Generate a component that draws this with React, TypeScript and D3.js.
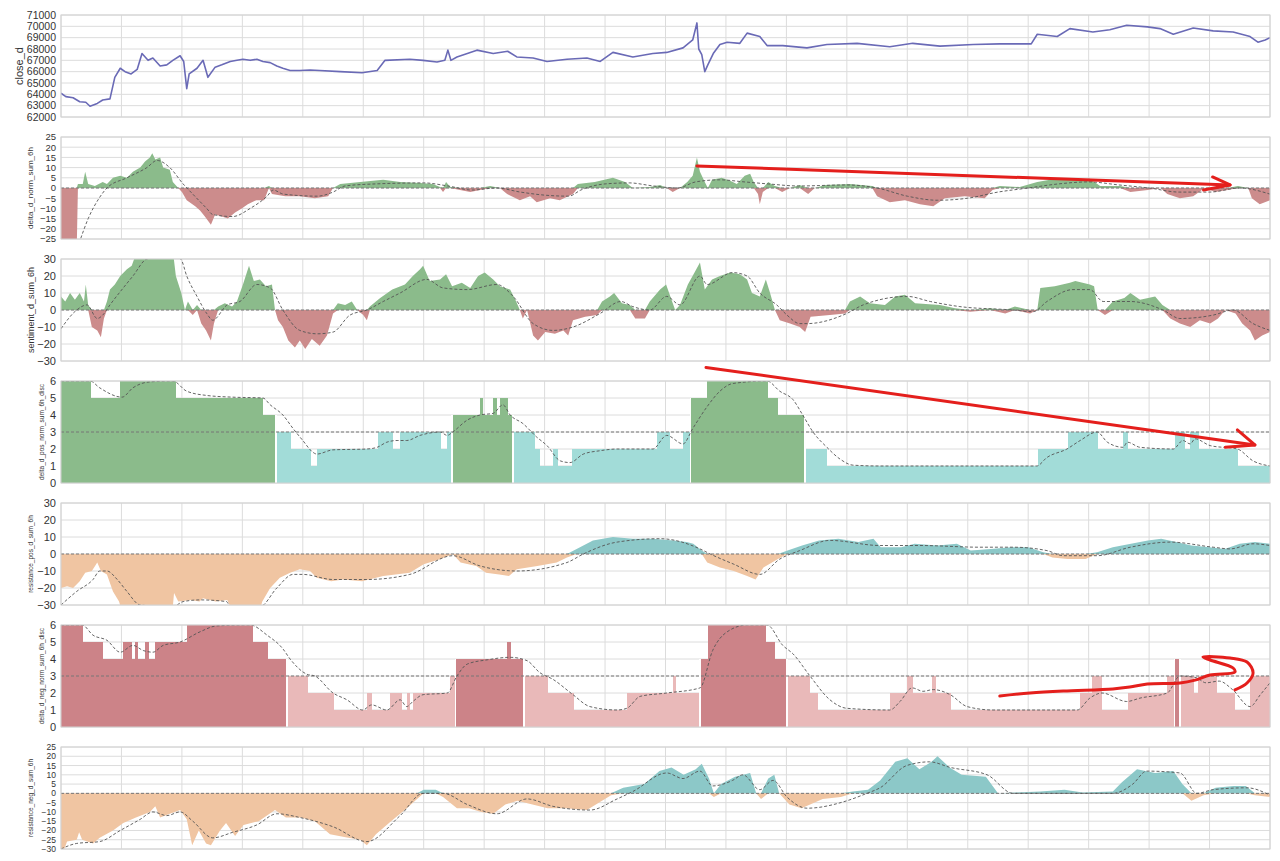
import React from 'react';
import * as d3 from 'd3';

type Pt = [number, number];

// x is time in grid units: 0..20, one unit per vertical gridline

const closeD: Pt[] = [
  [0, 64100], [0.08, 63800], [0.2, 63700], [0.31, 63350], [0.41, 63300], [0.48, 62950], [0.6, 63200],
  [0.69, 63500], [0.81, 63600], [0.89, 65500], [0.98, 66300], [1.06, 66000], [1.16, 65800], [1.26, 66200],
  [1.34, 67600], [1.44, 67000], [1.52, 67200], [1.64, 66500], [1.75, 66600], [1.85, 67000], [1.97, 67400],
  [2.03, 66900], [2.08, 64500], [2.12, 65800], [2.25, 66300], [2.35, 67000], [2.43, 65500], [2.55, 66400],
  [2.66, 66600], [2.8, 66900], [2.91, 67000], [3.01, 67100], [3.13, 67000], [3.24, 67100], [3.34, 66900],
  [3.46, 66800], [3.57, 66500], [3.67, 66300], [3.79, 66100], [3.95, 66100], [4.12, 66150], [4.28, 66100],
  [4.62, 66000], [4.98, 65900], [5.23, 66100], [5.36, 67000], [5.77, 67100], [5.99, 67000], [6.22, 66850],
  [6.35, 67000], [6.4, 67900], [6.45, 67000], [6.55, 67300], [6.88, 67900], [7.15, 67600], [7.39, 67800],
  [7.54, 67300], [7.81, 67200], [8.04, 66900], [8.37, 67100], [8.7, 67200], [8.92, 66900], [9.13, 67700],
  [9.46, 67300], [9.79, 67600], [10.02, 67700], [10.29, 68100], [10.45, 68800], [10.52, 70300], [10.55, 68000],
  [10.6, 67500], [10.65, 66000], [10.7, 66600], [10.79, 67600], [10.9, 68400], [11.02, 68600], [11.23, 68500],
  [11.35, 69400], [11.56, 69100], [11.68, 68300], [11.94, 68300], [12.34, 68100], [12.67, 68400], [13.17, 68500],
  [13.71, 68200], [14.09, 68500], [14.54, 68250], [15.09, 68400], [15.53, 68450], [16.05, 68450], [16.15, 69300],
  [16.48, 69100], [16.69, 69800], [17.07, 69500], [17.35, 69700], [17.63, 70100], [17.97, 69950], [18.18, 69800],
  [18.4, 69300], [18.73, 69850], [19.06, 69600], [19.39, 69500], [19.67, 69100], [19.8, 68600], [19.92, 68800],
  [20, 69000],
];

const deltaNorm: Pt[] = [
  [0, -30], [0.26, -30], [0.28, 2], [0.36, 2], [0.4, 8], [0.45, 2], [0.56, 1], [0.69, 3], [0.76, 2], [0.86, 5],
  [0.98, 6], [1.09, 5], [1.19, 8], [1.31, 10], [1.39, 13], [1.47, 15], [1.51, 17], [1.56, 14], [1.64, 15],
  [1.69, 10], [1.8, 9], [1.85, 3], [1.94, 0], [2.0, -2], [2.08, -6], [2.22, -9], [2.3, -11], [2.38, -14],
  [2.48, -18], [2.55, -13], [2.66, -14], [2.76, -15], [2.88, -12], [2.99, -10], [3.09, -8], [3.23, -6],
  [3.36, -6], [3.44, 1], [3.49, -3], [3.71, -4], [3.95, -4], [4.2, -5], [4.42, -4], [4.5, 0], [4.62, 2],
  [4.95, 3], [5.33, 4], [5.61, 3], [5.94, 2.5], [6.15, 2], [6.27, 0.5], [6.32, -2], [6.37, 3], [6.44, 0.5],
  [6.6, -1], [6.77, -2], [6.93, -1], [7.1, 1], [7.26, 0], [7.38, -3], [7.59, -6], [7.76, -4], [7.87, -7],
  [8.09, -5], [8.25, -6], [8.47, -3], [8.55, 2], [8.83, 3], [9.13, 5], [9.33, 3], [9.46, 0], [9.74, 0.5],
  [9.91, 1.5], [10.02, 0], [10.12, -2], [10.24, 0], [10.36, 3], [10.45, 6], [10.52, 15], [10.57, 8], [10.65, 3],
  [10.7, 0], [10.77, 4], [10.93, 5], [11.07, 3.5], [11.18, 2], [11.31, 6], [11.4, 7], [11.46, 3], [11.53, -3],
  [11.56, -8], [11.61, -2], [11.7, 3], [11.81, 1], [11.93, -2], [12.06, 0], [12.22, 1.5], [12.36, -3],
  [12.47, 0], [12.64, 1.5], [13.05, 2], [13.42, 1], [13.5, -4], [13.71, -7], [13.96, -6], [14.21, -8],
  [14.43, -9], [14.62, -5], [14.95, -4], [15.28, -5], [15.41, -1], [15.53, 1], [15.86, 0.5], [16.15, 3],
  [16.36, 4], [16.69, 4], [17.02, 4.5], [17.19, 1], [17.52, 1], [17.69, -2], [17.98, -1], [18.19, 0],
  [18.3, -3], [18.51, -5], [18.73, -4], [18.92, 0], [19.09, -2], [19.3, -1], [19.47, 1], [19.64, 0],
  [19.7, -5], [19.83, -8], [20, -6],
];
const deltaNormMa: Pt[] = [
  [0.3, -27], [0.45, -15], [0.63, -5], [0.76, 0], [1.09, 5], [1.42, 10], [1.59, 13.5], [1.8, 10], [2.02, 2],
  [2.18, -3], [2.41, -10], [2.51, -13], [2.84, -14], [3.13, -10], [3.41, -4], [3.51, -1], [3.68, -3],
  [4.24, -4], [4.5, -2], [4.7, 1], [5.2, 2], [6.0, 2.5], [6.4, 1], [6.8, -1], [7.2, 0], [7.6, -2], [8.0, -3.5],
  [8.4, -4], [8.6, -1], [9.0, 2], [9.4, 2.5], [9.8, 1], [10.2, 0], [10.5, 3], [10.9, 4], [11.3, 3], [11.7, 2],
  [12.2, 1], [13.0, 1.5], [13.5, 0], [14.0, -4], [14.5, -6], [15.0, -5], [15.5, -2], [16.0, 0], [16.5, 2],
  [17.0, 3], [17.5, 1.5], [18.0, 0], [18.5, -2], [19.0, -2], [19.5, 0], [20, -3],
];

const sentiment: Pt[] = [
  [0, 8], [0.07, 5], [0.15, 10], [0.23, 6], [0.31, 10], [0.38, 5], [0.41, 15], [0.45, 3], [0.51, -10],
  [0.6, -12], [0.66, -16], [0.71, -5], [0.76, 5], [0.81, 12], [0.89, 15], [0.98, 20], [1.09, 24], [1.17, 26],
  [1.26, 35], [1.85, 35], [1.9, 20], [1.99, 10], [2.05, 0], [2.1, 5], [2.18, -3], [2.25, 3], [2.32, -8],
  [2.4, -12], [2.48, -18], [2.53, -8], [2.6, 2], [2.71, 4], [2.83, 2], [2.91, 5], [3.01, 15], [3.11, 26],
  [3.19, 17], [3.29, 18], [3.39, 14], [3.49, 15], [3.54, 0], [3.59, -6], [3.67, -10], [3.76, -18], [3.87, -22],
  [3.95, -18], [4.04, -23], [4.15, -17], [4.28, -21], [4.4, -15], [4.5, -2], [4.58, 4], [4.7, 3], [4.81, 5],
  [4.9, 0], [5.0, -3], [5.06, -6], [5.11, 2], [5.28, 7], [5.48, 12], [5.69, 15], [5.82, 20], [5.94, 24],
  [5.99, 26], [6.1, 17], [6.27, 18], [6.37, 21], [6.47, 14], [6.63, 16], [6.77, 13], [6.9, 20], [7.01, 22],
  [7.15, 18], [7.26, 14], [7.43, 12], [7.53, 5], [7.59, 0], [7.64, -5], [7.71, 0], [7.81, -15], [7.89, -18],
  [8.01, -13], [8.17, -14], [8.31, -12], [8.39, -15], [8.47, -6], [8.67, -4], [8.87, -3], [8.95, 5], [9.08, 8],
  [9.15, 10], [9.28, 4], [9.41, 3], [9.5, -5], [9.66, -5], [9.74, 5], [9.91, 12], [10.01, 15], [10.08, 8],
  [10.16, 0], [10.24, 3], [10.37, 15], [10.48, 22], [10.57, 28], [10.65, 12], [10.77, 18], [10.9, 20],
  [11.07, 22], [11.23, 21], [11.35, 18], [11.43, 10], [11.56, 8], [11.66, 18], [11.73, 10], [11.81, 0],
  [11.89, -6], [12.06, -8], [12.22, -10], [12.31, -13], [12.4, -4], [12.72, -3], [12.97, -2], [13.05, 5],
  [13.22, 8], [13.38, 4], [13.63, 3], [13.8, 8], [13.96, 9], [14.13, 4], [14.54, 3], [14.79, 1], [15.04, -1],
  [15.37, 1], [15.62, -2], [15.78, 2], [16.03, -2], [16.15, 0], [16.2, 13], [16.44, 14], [16.69, 16],
  [16.78, 17], [17.02, 15], [17.09, 14], [17.15, 0], [17.27, -3], [17.4, 5], [17.59, 7], [17.69, 10],
  [17.85, 6], [18.1, 8], [18.22, 3], [18.35, -5], [18.51, -8], [18.68, -10], [18.84, -6], [19.01, -8],
  [19.14, -5], [19.26, 0], [19.43, -2], [19.54, -8], [19.67, -12], [19.75, -18], [19.87, -15], [20, -13],
];
const sentimentMa: Pt[] = [
  [0, -11], [0.26, 0], [0.43, 3], [0.6, -5], [0.69, -3], [0.81, 3], [1.03, 13], [1.19, 20], [1.42, 30],
  [1.8, 32], [1.98, 30], [2.08, 20], [2.25, 8], [2.41, -2], [2.51, -6], [2.75, 3], [2.96, 5], [3.24, 15],
  [3.46, 13], [3.67, 0], [3.95, -12], [4.24, -14], [4.5, -13], [4.78, -3], [5.06, 0], [5.33, 5], [5.61, 10],
  [6.05, 18], [6.32, 13], [6.72, 12], [7.21, 15], [7.48, 8], [7.81, -8], [8.14, -12], [8.47, -10], [8.92, -2],
  [9.26, 5], [9.46, 2], [9.74, 0], [10.02, 8], [10.24, 3], [10.57, 20], [10.69, 15], [11.11, 22], [11.35, 20],
  [11.56, 10], [11.84, 3], [12.01, -3], [12.22, -8], [12.34, -8], [13.0, -2], [13.27, 3], [14.0, 8],
  [14.38, 5], [14.87, 2], [15.75, 0], [16.08, -1], [16.31, 5], [16.74, 12], [17.02, 12], [17.24, 5],
  [17.69, 5], [18.23, 0], [18.51, -5], [19.06, -3], [19.39, 0], [19.72, -8], [20, -12],
];

const posDiscBreaks: number[] = [
  0, 0.48, 0.98, 1.89, 3.33, 3.56, 3.79, 4.12, 4.23, 5.24, 5.49, 5.61, 6.27, 6.39, 6.47, 6.93, 6.98, 7.15,
  7.2, 7.26, 7.38, 7.48, 7.84, 7.92, 8.14, 8.22, 8.45, 9.86, 10.07, 10.29, 10.41, 10.69, 11.68, 11.86, 12.31,
  12.67, 16.16, 16.66, 17.15, 17.57, 17.65, 18.43, 18.59, 18.68, 18.81, 19.47,
];
const posDiscLevels: number[] = [
  6, 5, 6, 5, 4, 3, 2, 1, 2, 3, 2, 3, 2, 3, 4, 5, 4, 5,
  4, 5, 4, 3, 2, 1, 2, 1, 2, 3, 2, 3, 5, 6, 5, 4, 2,
  1, 2, 3, 2, 3, 2, 3, 2, 3, 2, 1,
];
const posDiscMa: Pt[] = [
  [0, 6], [0.48, 6], [0.64, 5.6], [1.01, 5.05], [1.19, 5.6], [1.47, 5.95], [1.85, 6], [2.08, 5.4],
  [2.41, 5.15], [2.84, 5.05], [3.34, 5.0], [3.46, 4.6], [3.67, 4.0], [3.84, 3.2], [4.0, 2.5], [4.17, 1.8],
  [4.23, 1.7], [4.5, 1.95], [5.06, 2.0], [5.23, 2.1], [5.39, 2.4], [5.56, 2.5], [5.72, 2.5], [5.94, 2.8],
  [6.27, 3.0], [6.39, 2.8], [6.48, 3.0], [6.72, 3.7], [6.93, 4.0], [7.15, 4.1], [7.31, 4.6], [7.43, 4.0],
  [7.64, 3.5], [7.87, 2.7], [8.04, 2.2], [8.26, 1.3], [8.42, 1.2], [8.64, 1.7], [8.92, 1.9], [9.2, 2.0],
  [9.79, 2.0], [10.02, 2.8], [10.29, 2.3], [10.45, 3.2], [10.69, 4.5], [10.9, 5.4], [11.11, 5.85],
  [11.68, 6.0], [11.89, 5.4], [12.11, 4.9], [12.27, 4.0], [12.44, 3.0], [12.67, 2.1], [12.89, 1.4],
  [13.1, 1.05], [13.55, 1.0], [16.14, 1.0], [16.31, 1.5], [16.64, 2.0], [16.86, 2.5], [17.14, 3.0],
  [17.31, 2.4], [17.57, 2.1], [17.64, 2.4], [17.85, 2.1], [18.4, 2.0], [18.56, 2.5], [18.68, 2.3],
  [18.76, 2.6], [19.01, 2.2], [19.46, 2.0], [19.72, 1.3], [20, 1.0],
];

const resistPos: Pt[] = [
  [0, -20], [0.1, -19], [0.2, -20], [0.31, -16], [0.4, -11], [0.51, -10], [0.6, -5], [0.66, -10], [0.76, -12],
  [0.86, -22], [0.96, -28], [1.02, -35], [1.84, -35], [1.87, -23], [1.94, -28], [2.15, -27], [2.29, -28],
  [2.35, -26], [2.56, -28], [2.75, -27], [2.85, -35], [3.27, -35], [3.33, -28], [3.46, -20], [3.62, -14],
  [3.79, -11], [3.95, -9], [4.12, -10], [4.23, -14], [4.47, -16], [4.67, -15], [4.98, -16], [5.33, -13],
  [5.77, -11], [6.0, -6], [6.28, -3], [6.48, 0], [6.61, -5], [6.87, -7], [7.03, -11], [7.25, -12],
  [7.41, -13], [7.54, -9], [7.88, -7], [8.2, -5], [8.37, -2], [8.53, 3], [8.8, 8], [9.13, 10], [9.46, 9],
  [9.79, 9], [10.13, 8], [10.35, 7], [10.46, 6], [10.6, 2], [10.69, -5], [10.9, -8], [11.13, -10],
  [11.35, -13], [11.49, -15], [11.62, -8], [11.86, -3], [12.02, 2], [12.26, 5], [12.54, 8], [12.86, 9],
  [13.19, 7], [13.44, 9], [13.56, 4], [13.9, 4], [14.12, 6], [14.5, 5], [14.82, 6], [15.05, 2], [15.38, 3],
  [15.72, 4], [16.0, 4], [16.25, 1], [16.4, -2], [16.65, -3], [16.95, -3], [17.14, 1], [17.4, 4], [17.7, 6],
  [17.98, 8], [18.2, 9], [18.45, 7], [18.7, 5], [19.0, 4], [19.25, 3], [19.5, 6], [19.75, 7], [20, 6],
];
const resistPosMa: Pt[] = [
  [0, -30], [0.26, -22], [0.53, -15], [0.64, -10], [0.76, -10], [0.93, -15], [1.09, -22], [1.31, -30],
  [1.85, -31], [2.02, -28], [2.3, -27], [2.74, -28], [2.8, -31], [3.29, -31], [3.57, -20], [3.84, -12],
  [4.0, -12], [4.5, -15], [5.06, -15], [5.77, -12], [6.48, -1], [6.93, -7], [7.54, -10], [8.37, -5],
  [8.64, 0], [9.2, 7], [9.91, 9], [10.57, 3], [10.74, 0], [11.13, -6], [11.56, -12], [11.89, -3], [12.22, 2],
  [12.72, 8], [13.55, 5], [14.21, 5], [15.2, 4], [15.75, 4], [16.31, 2], [16.58, -1], [17.14, -1],
  [17.69, 4], [18.35, 7], [19.06, 4], [19.34, 3], [19.72, 6], [20, 5],
];

const negDiscBreaks: number[] = [
  0, 0.35, 0.68, 1.03, 1.17, 1.22, 1.27, 1.39, 1.44, 1.56, 2.08, 3.16, 3.42, 3.74, 4.07, 4.5, 5.06, 5.14,
  5.44, 5.64, 5.72, 5.77, 5.82, 6.44, 6.53, 7.38, 7.43, 7.66, 8.04, 8.47, 9.36, 10.12, 10.16, 10.57, 10.7,
  11.65, 11.81, 12.01, 12.39, 12.52, 13.71, 13.99, 14.09, 14.41, 14.46, 14.71, 16.86, 17.06, 17.22, 17.65,
  18.3, 18.42, 18.51, 18.73, 18.81, 19.12, 19.42, 19.67,
];
const negDiscLevels: number[] = [
  6, 5, 4, 5, 4, 5, 4, 5, 4, 5, 6, 5, 4, 3, 2, 1, 2, 1,
  2, 1, 2, 1, 2, 3, 4, 5, 4, 3, 2, 1, 2, 3, 2, 4, 6,
  5, 4, 3, 2, 1, 2, 3, 2, 3, 2, 1, 2, 3, 1, 2,
  3, 4, 3, 2, 3, 2, 1, 3,
];
const negDiscMa: Pt[] = [
  [0, 6], [0.35, 6], [0.53, 5.4], [0.76, 5.1], [0.98, 4.4], [1.19, 4.8], [1.36, 4.5], [1.52, 4.4],
  [1.69, 4.8], [1.97, 5.0], [2.3, 5.6], [2.58, 5.95], [3.13, 6.0], [3.41, 5.4], [3.67, 4.6], [3.79, 4.0],
  [4.07, 3.1], [4.2, 3.0], [4.5, 2.0], [4.73, 1.6], [4.99, 1.0], [5.14, 1.3], [5.39, 1.0], [5.61, 1.6],
  [5.72, 1.2], [5.82, 1.5], [5.99, 1.9], [6.39, 2.0], [6.55, 3.0], [6.72, 3.7], [7.05, 3.95], [7.43, 4.1],
  [7.71, 3.9], [7.92, 3.2], [8.14, 2.8], [8.47, 1.9], [8.75, 1.2], [9.2, 1.0], [9.36, 1.1], [9.58, 1.8],
  [10.02, 2.0], [10.57, 2.3], [10.78, 4.5], [11.02, 5.6], [11.35, 6.0], [11.68, 6.0], [11.94, 4.8],
  [12.11, 4.3], [12.39, 3.0], [12.72, 1.6], [13.0, 1.1], [13.71, 1.0], [13.88, 1.5], [14.08, 2.3],
  [14.26, 2.1], [14.43, 2.2], [14.71, 1.9], [14.99, 1.2], [15.42, 1.0], [16.81, 1.0], [17.02, 1.7],
  [17.22, 2.0], [17.63, 1.5], [17.85, 1.7], [18.3, 2.0], [18.51, 3.0], [18.78, 2.9], [18.94, 2.6],
  [19.16, 2.7], [19.38, 2.2], [19.67, 1.2], [19.84, 1.9], [20, 2.6],
];

const resistNeg: Pt[] = [
  [0, -35], [0.1, -26], [0.26, -25], [0.3, -21], [0.35, -25], [0.53, -27], [0.64, -24], [0.86, -20],
  [1.03, -16], [1.24, -13], [1.47, -10], [1.56, -7], [1.64, -13], [1.8, -11], [1.97, -9], [2.08, -14],
  [2.17, -28], [2.28, -20], [2.4, -27], [2.48, -28], [2.63, -20], [2.73, -16], [2.88, -23], [3.02, -17],
  [3.27, -15], [3.45, -11], [3.54, -9], [3.72, -13], [3.97, -13], [4.2, -15], [4.45, -22], [4.75, -24],
  [4.95, -25], [5.06, -28], [5.21, -22], [5.46, -15], [5.72, -8], [5.89, -3], [6.0, 2], [6.2, 2], [6.32, -2],
  [6.55, -8], [6.75, -8], [6.95, -10], [7.15, -11], [7.35, -6], [7.55, -4], [7.8, -6], [8.05, -8], [8.35, -8],
  [8.7, -9], [8.95, -4], [9.1, -1], [9.3, 3], [9.65, 5], [9.9, 12], [10.1, 14], [10.3, 10], [10.5, 13],
  [10.6, 16], [10.72, 8], [10.8, -2], [10.92, 5], [11.15, 9], [11.4, 11], [11.5, 0], [11.58, -3], [11.7, 8],
  [11.8, 10], [11.88, 0], [12.05, -6], [12.25, -8], [12.6, -3], [12.9, -2], [13.1, 1], [13.35, 2], [13.55, 7],
  [13.8, 17], [14.0, 19], [14.2, 13], [14.4, 17], [14.5, 20], [14.7, 14], [14.9, 10], [15.3, 9], [15.5, 0],
  [15.8, 0.5], [16.2, 1], [16.6, 2], [16.9, 0.5], [17.4, 1], [17.55, 6], [17.8, 13], [18.1, 11], [18.4, 12],
  [18.55, 5], [18.7, -4], [18.9, -1], [19.1, 3], [19.4, 4], [19.6, 4], [19.75, -1], [20, -2],
];
const resistNegMa: Pt[] = [
  [0, -30], [0.26, -27], [0.64, -26], [0.98, -20], [1.31, -14], [1.52, -10], [1.75, -12], [1.97, -10],
  [2.18, -15], [2.51, -24], [2.84, -21], [3.24, -17], [3.57, -11], [3.95, -13], [4.5, -18], [5.06, -26],
  [5.61, -12], [5.99, 0], [6.32, 0], [6.72, -6], [7.21, -11], [7.71, -3], [8.14, -7], [8.75, -9], [9.2, -3],
  [9.46, 1], [10.02, 11], [10.29, 8], [10.57, 12], [10.78, 4], [11.11, 7], [11.28, 10], [11.56, 2],
  [11.78, 7], [12.01, -2], [12.34, -8], [13.0, -4], [13.33, 0], [13.55, 3], [13.99, 15], [14.37, 17],
  [14.71, 14], [15.32, 10], [15.75, 0], [16.64, 0], [17.4, 0], [17.73, 5], [17.96, 12], [18.51, 11],
  [18.79, 0], [19.06, 2], [19.62, 3], [20, -1],
];

// hand-drawn red marks, in the data units of the panel they sit on
const arrowDelta: Pt[] = [[10.52, 10.8], [19.34, 1.5]];
const arrowDeltaHead: Pt[] = [[19.05, 5.4], [19.34, 1.5], [18.9, -1]];
const arrowPos: Pt[] = [[10.67, 6.8], [19.75, 2.24]];
const arrowPosHead: Pt[] = [[19.46, 3.12], [19.75, 2.24], [19.26, 2.1]];
const squiggleNeg: Pt[] = [
  [15.53, 1.82], [16.03, 2.0], [16.58, 2.12], [17.4, 2.24], [17.68, 2.35], [17.97, 2.53], [18.51, 2.59],
  [18.76, 2.76], [19.01, 3.06], [19.42, 3.24], [19.39, 3.47], [19.01, 3.94], [18.89, 4.12], [19.34, 4.06],
  [19.62, 3.82], [19.72, 3.18], [19.62, 2.59], [19.42, 2.18],
];

const closeTicks = [62000, 63000, 64000, 65000, 66000, 67000, 68000, 69000, 70000, 71000];
const ticks25 = [-25, -20, -15, -10, -5, 0, 5, 10, 15, 20, 25];
const ticks30 = [-30, -20, -10, 0, 10, 20, 30];
const ticksDisc = [0, 1, 2, 3, 4, 5, 6];
const ticksNeg = [-30, -25, -20, -15, -10, -5, 0, 5, 10, 15, 20, 25];

const W = 1280;
const H = 861;
const LEFT = 61;
const RIGHT = 1270;
const TOP0 = 15;
const STEP = 122;
const PH = 102;
const FONT = "'Liberation Sans', Arial, sans-serif";

const GREEN = '#8bbb8b';
const RED = '#cc8c8c';
const CYAN = '#a2dcd8';
const ORANGE = '#f0c5a2';
const TEAL = '#8cc8c8';
const DARKPINK = '#cc8388';
const LIGHTPINK = '#e9b9b9';
const MARK = '#e41f1c';

type Panel = {
  label: string;
  labelSize: number;
  labelX: number;
  tickSize: number;
  domain: [number, number];
  ticks: number[];
  kind: 'line' | 'signed' | 'steps';
  pts?: Pt[];
  ma?: Pt[];
  pos?: string;
  neg?: string;
  breaks?: number[];
  levels?: number[];
  ref?: number;
};

const panels: Panel[] = [
  { label: 'close_d', labelSize: 11, labelX: 19, tickSize: 10.5, domain: [62000, 71000], ticks: closeTicks, kind: 'line', pts: closeD },
  { label: 'delta_d_norm_sum_6h', labelSize: 8, labelX: 30, tickSize: 9.5, domain: [-25, 25], ticks: ticks25, kind: 'signed', pts: deltaNorm, ma: deltaNormMa, pos: GREEN, neg: RED, ref: 0 },
  { label: 'sentiment_d_sum_6h', labelSize: 9, labelX: 31, tickSize: 11, domain: [-30, 30], ticks: ticks30, kind: 'signed', pts: sentiment, ma: sentimentMa, pos: GREEN, neg: RED, ref: 0 },
  { label: 'delta_d_pos_norm_sum_6h_disc', labelSize: 6.5, labelX: 42, tickSize: 11, domain: [0, 6], ticks: ticksDisc, kind: 'steps', breaks: posDiscBreaks, levels: posDiscLevels, ma: posDiscMa, pos: GREEN, neg: CYAN, ref: 3 },
  { label: 'resistance_pos_d_sum_6h', labelSize: 6.5, labelX: 31, tickSize: 11, domain: [-30, 30], ticks: ticks30, kind: 'signed', pts: resistPos, ma: resistPosMa, pos: TEAL, neg: ORANGE, ref: 0 },
  { label: 'delta_d_neg_norm_sum_6h_disc', labelSize: 6.5, labelX: 42, tickSize: 11, domain: [0, 6], ticks: ticksDisc, kind: 'steps', breaks: negDiscBreaks, levels: negDiscLevels, ma: negDiscMa, pos: DARKPINK, neg: LIGHTPINK, ref: 3 },
  { label: 'resistance_neg_d_sum_6h', labelSize: 6.5, labelX: 31, tickSize: 8.5, domain: [-30, 25], ticks: ticksNeg, kind: 'signed', pts: resistNeg, ma: resistNegMa, pos: TEAL, neg: ORANGE, ref: 0 },
];

const x = d3.scaleLinear().domain([0, 20]).range([LEFT, RIGHT]);
const vGrid = d3.range(0, 21);

function yFor(i: number, domain: [number, number]) {
  const top = TOP0 + i * STEP;
  return d3.scaleLinear().domain(domain).range([top + PH, top]);
}

function PanelView({ p, i }: { p: Panel; i: number }) {
  const y = yFor(i, p.domain);
  const top = TOP0 + i * STEP;
  const fmt = p.domain[1] > 1000 ? d3.format('d') : d3.format('');
  const clipId = `clip-${i}`;
  const maLine = d3.line<Pt>().x(d => x(d[0])).y(d => y(d[1])).curve(d3.curveMonotoneX);

  let content: React.ReactNode = null;
  if (p.kind === 'line' && p.pts) {
    const line = d3.line<Pt>().x(d => x(d[0])).y(d => y(d[1]));
    content = <path d={line(p.pts) || ''} fill="none" stroke="#6a6ab6" strokeWidth={1.6} strokeLinejoin="round" />;
  } else if (p.kind === 'signed' && p.pts) {
    const posArea = d3.area<Pt>().x(d => x(d[0])).y0(y(0)).y1(d => y(Math.max(0, d[1])));
    const negArea = d3.area<Pt>().x(d => x(d[0])).y0(y(0)).y1(d => y(Math.min(0, d[1])));
    content = (
      <g>
        <path d={posArea(p.pts) || ''} fill={p.pos} />
        <path d={negArea(p.pts) || ''} fill={p.neg} />
      </g>
    );
  } else if (p.kind === 'steps' && p.breaks && p.levels) {
    const br = p.breaks;
    const lv = p.levels;
    content = (
      <g shapeRendering="crispEdges">
        {br.map((b, k) => {
          const b1 = k + 1 < br.length ? br[k + 1] : 20;
          return (
            <rect key={k} x={x(b)} width={x(b1) - x(b) + 0.5} y={y(lv[k])} height={y(0) - y(lv[k])}
              fill={lv[k] > 3 ? p.pos : p.neg} />
          );
        })}
        {br.map((b, k) => {
          if (k === 0) return null;
          const changed = (lv[k] > 3) !== (lv[k - 1] > 3);
          if (!changed) return null;
          return <line key={'s' + k} x1={x(b)} x2={x(b)} y1={y(0)} y2={y(Math.max(lv[k], lv[k - 1]))} stroke="#fff" strokeWidth={1.5} />;
        })}
      </g>
    );
  }

  return (
    <g>
      <defs>
        <clipPath id={clipId}>
          <rect x={LEFT} y={top} width={RIGHT - LEFT} height={PH} />
        </clipPath>
      </defs>
      {p.ticks.map(t => (
        <line key={'h' + t} x1={LEFT} x2={RIGHT} y1={y(t)} y2={y(t)} stroke="#dcdcdc" strokeWidth={1} />
      ))}
      {vGrid.map(t => (
        <line key={'v' + t} x1={x(t)} x2={x(t)} y1={top} y2={top + PH} stroke="#dcdcdc" strokeWidth={1} />
      ))}
      <g clipPath={`url(#${clipId})`}>
        {content}
        {p.ref !== undefined && (
          <line x1={LEFT} x2={RIGHT} y1={y(p.ref)} y2={y(p.ref)} stroke="#777" strokeWidth={1} strokeDasharray="3,2" />
        )}
        {p.ma && <path d={maLine(p.ma) || ''} fill="none" stroke="#555" strokeWidth={0.9} strokeDasharray="3,2" />}
      </g>
      <rect x={LEFT} y={top} width={RIGHT - LEFT} height={PH} fill="none" stroke="#d2d2d2" strokeWidth={1} />
      {p.ticks.map(t => (
        <text key={'t' + t} x={LEFT - 5} y={y(t)} dy="0.35em" textAnchor="end" fontSize={p.tickSize} fill="#333" fontFamily={FONT}>
          {fmt(t)}
        </text>
      ))}
      <text transform={`translate(${p.labelX},${top + PH / 2}) rotate(-90)`} textAnchor="middle" dy="0.35em"
        fontSize={p.labelSize} fill="#333" fontFamily={FONT}>
        {p.label}
      </text>
    </g>
  );
}

export default function App() {
  const yDelta = yFor(1, panels[1].domain);
  const yPos = yFor(3, panels[3].domain);
  const yNeg = yFor(5, panels[5].domain);
  const straight = (ys: d3.ScaleLinear<number, number>) => d3.line<Pt>().x(d => x(d[0])).y(d => ys(d[1]));
  const squiggle = d3.line<Pt>().x(d => x(d[0])).y(d => yNeg(d[1])).curve(d3.curveCatmullRom.alpha(0.5));

  return (
    <div style={{ position: 'absolute', left: 0, top: 0 }}>
      <svg width={W} height={H} style={{ display: 'block', background: '#fff' }}>
        {panels.map((p, i) => <PanelView key={i} p={p} i={i} />)}
        <g fill="none" stroke={MARK} strokeWidth={3} strokeLinecap="round" strokeLinejoin="round">
          <path d={straight(yDelta)(arrowDelta) || ''} />
          <path d={straight(yDelta)(arrowDeltaHead) || ''} />
          <path d={straight(yPos)(arrowPos) || ''} />
          <path d={straight(yPos)(arrowPosHead) || ''} />
          <path d={squiggle(squiggleNeg) || ''} />
        </g>
      </svg>
    </div>
  );
}
